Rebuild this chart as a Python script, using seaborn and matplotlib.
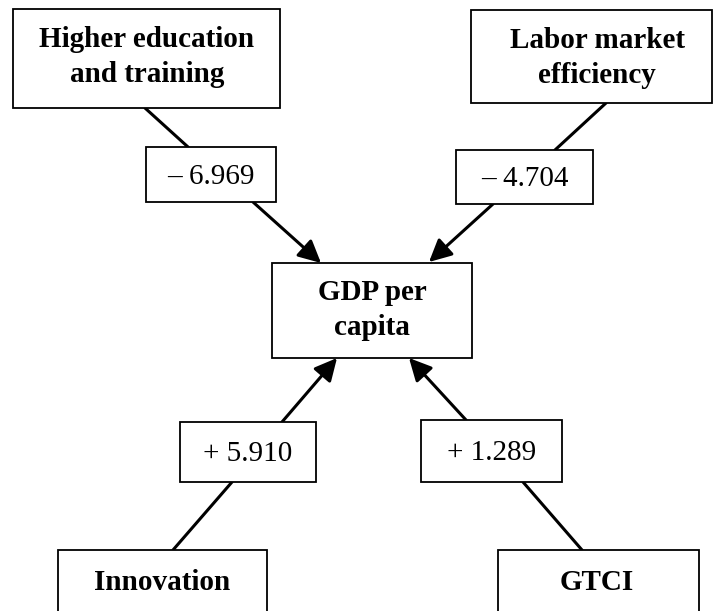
import matplotlib
matplotlib.use("Agg")
import matplotlib.pyplot as plt
from matplotlib.patches import Rectangle
import seaborn as sns
import pandas as pd

# nodes and path coefficients
drivers = ["Higher education\nand training", "Labor market\nefficiency", "Innovation", "GTCI"]
coef_labels = ["\u2013 6.969", "\u2013 4.704", "+ 5.910", "+ 1.289"]
target = "GDP per\ncapita"

# layout in pixel coords (x0, y0, x1, y1)
driver_boxes = [(13, 9, 280, 108), (471, 10, 712, 103), (58, 550, 267, 640), (498, 550, 699, 640)]
driver_text = [(147, 57), (597, 58), (162, 582), (597, 582)]
coef_boxes = [(146, 147, 276, 202), (456, 150, 593, 204), (180, 422, 316, 482), (421, 420, 562, 482)]
target_box = (272, 263, 472, 358)
# segment driver->label, then label->target arrow
seg1 = [((145, 108), (188, 147)), ((606, 103), (555, 150)),
        ((173, 550), (232, 482)), ((582, 550), (523, 482))]
arrows = [((253, 202), (321, 263)), ((493, 204), (429, 262)),
          ((282, 422), (337, 358)), ((466, 420), (409, 358))]

sns.set_style("white")
plt.rcParams["font.family"] = ["Liberation Serif", "DejaVu Serif"]
plt.rcParams["text.color"] = "black"

fig = plt.figure(figsize=(7.13, 6.11), dpi=100)
ax = fig.add_axes([0, 0, 1, 1])
ax.set_xlim(0, 713)
ax.set_ylim(611, 0)
ax.axis("off")

def box(b, lw=1.3):
    x0, y0, x1, y1 = b
    ax.add_patch(Rectangle((x0, y0), x1 - x0, y1 - y0, fill=True, facecolor="white",
                           edgecolor="black", lw=lw, zorder=3))

for (a, b) in seg1:
    df = pd.DataFrame({"x": [a[0], b[0]], "y": [a[1], b[1]]})
    sns.lineplot(data=df, x="x", y="y", sort=False, color="black", lw=2.2, ax=ax, zorder=2)

for (a, b) in arrows:
    ax.annotate("", xy=b, xytext=a,
                arrowprops=dict(arrowstyle="-|>", color="black", lw=2.2,
                                mutation_scale=34, shrinkA=0, shrinkB=0), zorder=2)

for b, t, name in zip(driver_boxes, driver_text, drivers):
    box(b)
    ax.text(t[0], t[1], name, ha="center", va="center", fontsize=21, color="black",
            fontweight="bold", linespacing=1.4, zorder=4)

for b, lab in zip(coef_boxes, coef_labels):
    box(b)
    ax.text((b[0] + b[2]) / 2, (b[1] + b[3]) / 2 + 2, lab, ha="center", va="center",
            fontsize=21, color="black", zorder=4)

box(target_box)
ax.text((target_box[0] + target_box[2]) / 2, 310, target, ha="center", va="center",
        fontsize=21, color="black", fontweight="bold", linespacing=1.4, zorder=4)

ax.set_xlabel("")
ax.set_ylabel("")
fig.savefig("out.png", dpi=100)
